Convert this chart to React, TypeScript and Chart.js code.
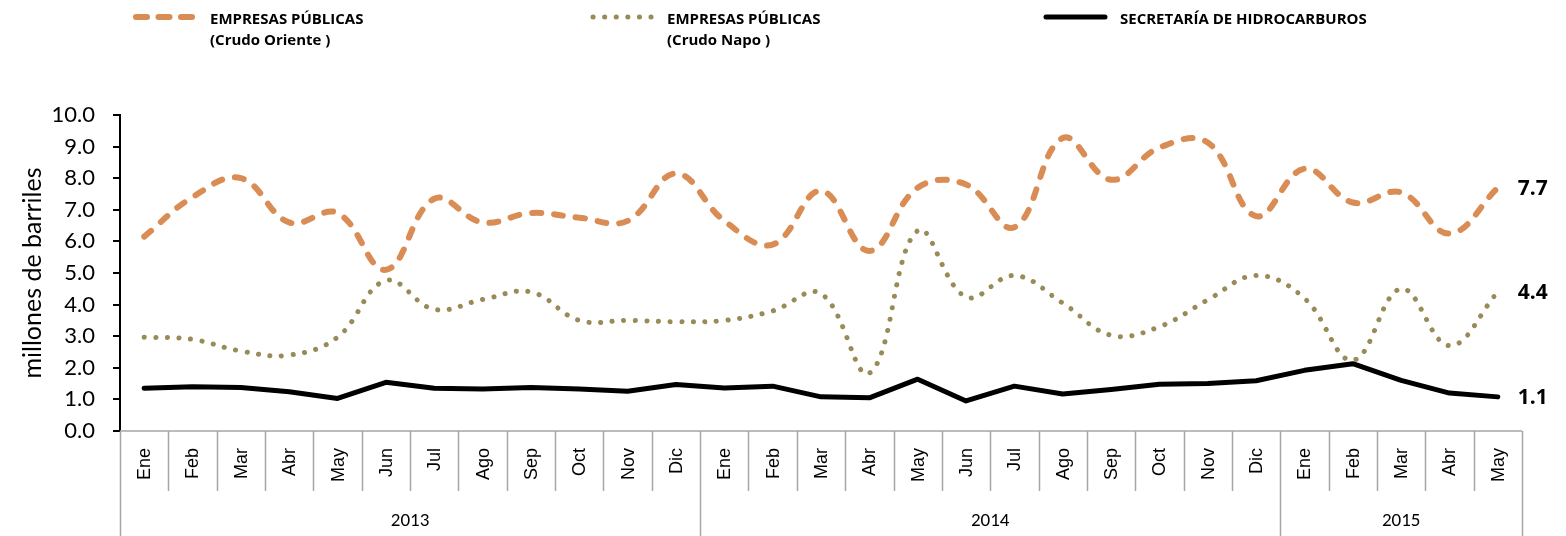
import React, { useEffect, useRef } from 'react';
import { Chart, registerables } from 'chart.js';

Chart.register(...registerables);

const months = [
  'Ene', 'Feb', 'Mar', 'Abr', 'May', 'Jun', 'Jul', 'Ago', 'Sep', 'Oct', 'Nov', 'Dic',
  'Ene', 'Feb', 'Mar', 'Abr', 'May', 'Jun', 'Jul', 'Ago', 'Sep', 'Oct', 'Nov', 'Dic',
  'Ene', 'Feb', 'Mar', 'Abr', 'May',
];
const years = ['2013', '2014', '2015'];
const yearCounts = [12, 12, 5];

const oriente = [
  6.15, 7.4, 8.0, 6.6, 6.9, 5.1, 7.35, 6.6, 6.9, 6.75, 6.65, 8.15,
  6.65, 5.9, 7.6, 5.7, 7.7, 7.8, 6.45, 9.27, 7.95, 8.97, 9.13, 6.8,
  8.3, 7.23, 7.55, 6.25, 7.7,
];
const napo = [
  2.97, 2.9, 2.53, 2.4, 2.97, 4.76, 3.85, 4.16, 4.4, 3.5, 3.5, 3.46,
  3.5, 3.8, 4.35, 1.83, 6.34, 4.24, 4.92, 4.05, 3.03, 3.3, 4.15, 4.92,
  4.2, 2.24, 4.5, 2.7, 4.4,
];
const secretaria = [
  1.35, 1.4, 1.38, 1.24, 1.03, 1.54, 1.35, 1.33, 1.38, 1.33, 1.26, 1.47,
  1.36, 1.42, 1.08, 1.05, 1.64, 0.95, 1.42, 1.17, 1.31, 1.48, 1.5, 1.59,
  1.92, 2.13, 1.6, 1.2, 1.08,
];
const endLabels = ['7.7', '4.4', '1.1'];
const legendLines = [
  ['EMPRESAS PÚBLICAS', '(Crudo Oriente )'],
  ['EMPRESAS PÚBLICAS', '(Crudo Napo )'],
  ['SECRETARÍA DE HIDROCARBUROS'],
];

const ORANGE = '#D98D55';
const OLIVE = '#998B58';
const GRAY = '#A6A6A6';
const CALIBRI = "Carlito, 'Liberation Sans Narrow', Lato, sans-serif";
const BOLD = "'Open Sans', 'Noto Sans', 'Liberation Sans', sans-serif";

const decorPlugin = {
  id: 'decor',
  afterDraw(chart: any) {
    const ctx = chart.ctx as CanvasRenderingContext2D;
    const area = chart.chartArea;
    const xs = chart.scales.x;
    const n = months.length;
    const step = (area.right - area.left) / n;
    const bottom = chart.height;
    const monthBottom = area.bottom + 60;

    ctx.save();
    // x axis line
    ctx.strokeStyle = GRAY;
    ctx.lineWidth = 1.5;
    ctx.beginPath();
    ctx.moveTo(area.left, area.bottom);
    ctx.lineTo(area.right, area.bottom);
    ctx.stroke();

    // separators
    const yearBounds = new Set<number>();
    let acc = 0;
    yearBounds.add(0);
    yearCounts.forEach((c) => { acc += c; yearBounds.add(acc); });
    for (let i = 0; i <= n; i++) {
      const x = Math.round(xs.getPixelForValue(Math.min(i, n - 1)) + (i === n ? step / 2 : -step / 2)) + 0.5;
      ctx.beginPath();
      ctx.moveTo(x, area.bottom);
      ctx.lineTo(x, yearBounds.has(i) ? bottom : monthBottom);
      ctx.stroke();
    }

    // month labels
    ctx.fillStyle = '#000';
    ctx.font = "18px 'Liberation Sans', Arial, sans-serif";
    ctx.textAlign = 'right';
    ctx.textBaseline = 'middle';
    months.forEach((m, i) => {
      const x = xs.getPixelForValue(i);
      ctx.save();
      ctx.translate(x + 1, area.bottom + 17);
      ctx.rotate(-Math.PI / 2);
      ctx.fillText(m, 0, 0);
      ctx.restore();
    });

    // year labels
    ctx.font = `19px ${CALIBRI}`;
    ctx.textAlign = 'center';
    let start = 0;
    years.forEach((y, k) => {
      const x0 = xs.getPixelForValue(start) - step / 2;
      const x1 = xs.getPixelForValue(start + yearCounts[k] - 1) + step / 2;
      ctx.fillText(y, (x0 + x1) / 2, 521);
      start += yearCounts[k];
    });

    // end labels
    ctx.font = `bold 21px ${BOLD}`;
    ctx.textAlign = 'left';
    chart.data.datasets.forEach((_: any, d: number) => {
      const meta = chart.getDatasetMeta(d);
      const pt = meta.data[meta.data.length - 1];
      ctx.fillText(endLabels[d], pt.x + 20, pt.y + 1);
    });

    // legend
    const legendX = [133, 590, 1043];
    const styles = [
      { color: ORANGE, dash: [11, 11.5], w: 6 },
      { color: OLIVE, dash: [0.1, 11.5], w: 5 },
      { color: '#000', dash: [] as number[], w: 5 },
    ];
    legendX.forEach((lx, k) => {
      ctx.save();
      ctx.strokeStyle = styles[k].color;
      ctx.lineWidth = styles[k].w;
      ctx.lineCap = 'round';
      ctx.setLineDash(styles[k].dash);
      ctx.beginPath();
      ctx.moveTo(lx + 3, 17);
      ctx.lineTo(lx + 62, 17);
      ctx.stroke();
      ctx.restore();
      ctx.fillStyle = '#000';
      ctx.font = `bold 15px ${BOLD}`;
      ctx.textAlign = 'left';
      ctx.textBaseline = 'alphabetic';
      legendLines[k].forEach((t, j) => ctx.fillText(t, lx + 77, 24 + j * 21));
    });
    ctx.restore();
  },
};

export default function App() {
  const ref = useRef<HTMLCanvasElement>(null);
  useEffect(() => {
    if (!ref.current) return;
    const chart = new Chart(ref.current, {
      type: 'line',
      data: {
        labels: months,
        datasets: [
          {
            label: 'EMPRESAS PÚBLICAS (Crudo Oriente )',
            data: oriente,
            borderColor: ORANGE,
            borderWidth: 6,
            borderDash: [9, 13],
            borderCapStyle: 'round',
            tension: 0.4,
            pointRadius: 0,
            fill: false,
          },
          {
            label: 'EMPRESAS PÚBLICAS (Crudo Napo )',
            data: napo,
            borderColor: OLIVE,
            borderWidth: 5,
            borderDash: [0.1, 11.5],
            borderCapStyle: 'round',
            tension: 0.4,
            pointRadius: 0,
            fill: false,
          },
          {
            label: 'SECRETARÍA DE HIDROCARBUROS',
            data: secretaria,
            borderColor: '#000',
            borderWidth: 5,
            borderJoinStyle: 'round',
            borderCapStyle: 'round',
            tension: 0,
            pointRadius: 0,
            fill: false,
          },
        ],
      },
      options: {
        animation: false,
        responsive: false,
        devicePixelRatio: 1,
        layout: { padding: { left: 0, right: 44, top: 115, bottom: 0 } },
        plugins: {
          legend: { display: false },
          tooltip: { enabled: false },
          title: { display: false },
        },
        scales: {
          x: {
            type: 'category',
            offset: true,
            grid: { display: false },
            border: { display: false },
            ticks: { display: false },
            afterFit: (s: any) => { s.height = 105; },
          },
          y: {
            min: 0,
            max: 10,
            ticks: {
              stepSize: 1,
              callback: (v: any) => Number(v).toFixed(1),
              font: { family: 'Lato', size: 22 },
              color: '#000',
              padding: 18,
            },
            grid: { drawOnChartArea: false, drawTicks: true, tickLength: 7, color: '#000', lineWidth: 2 },
            border: { color: '#000', width: 2 },
            title: {
              display: true,
              text: 'millones de barriles',
              font: { family: 'Lato', size: 25 },
              color: '#000',
              padding: { top: 18, bottom: 0 },
            },
            afterFit: (s: any) => { s.width = 120; },
          },
        },
      },
      plugins: [decorPlugin],
    } as any);
    return () => chart.destroy();
  }, []);
  return (
    <div style={{ position: 'absolute', left: 0, top: 0, width: 1566, height: 536, background: '#fff' }}>
      <canvas ref={ref} width={1566} height={536} style={{ width: 1566, height: 536, display: 'block' }} />
    </div>
  );
}
